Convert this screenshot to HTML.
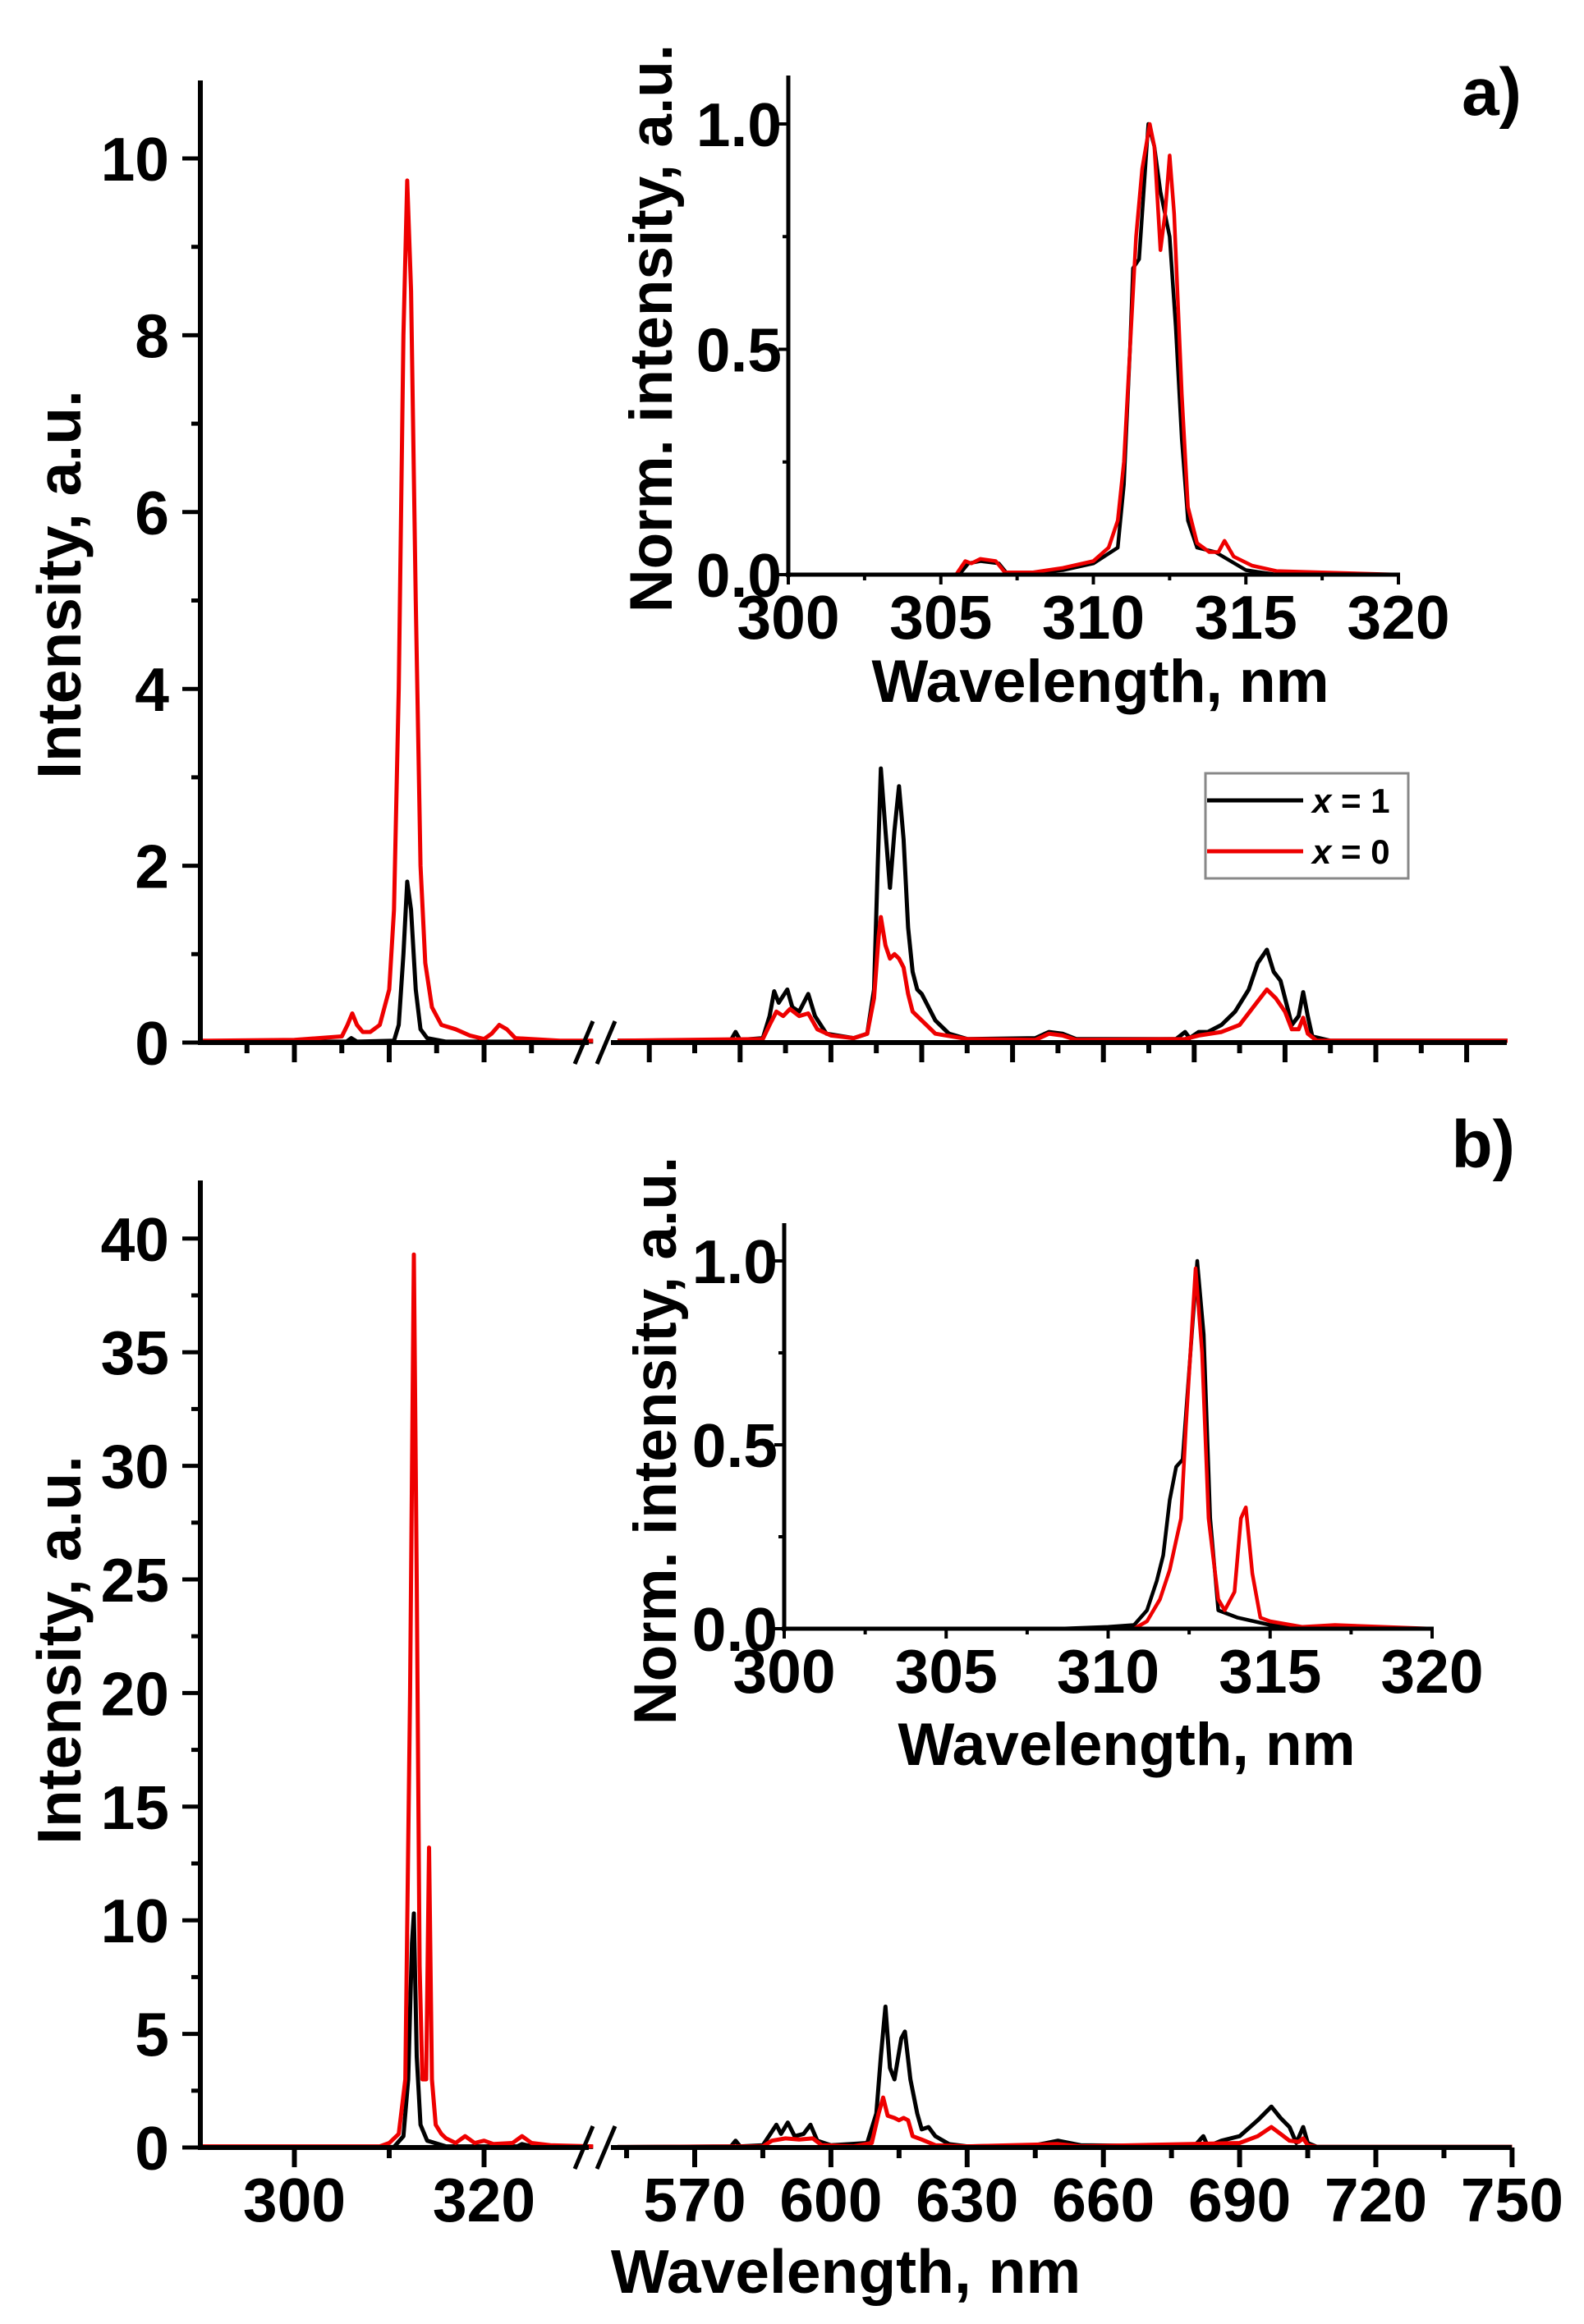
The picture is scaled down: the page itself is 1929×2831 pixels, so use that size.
<!DOCTYPE html>
<html><head><meta charset="utf-8">
<style>
html,body{margin:0;padding:0;background:#fff;}
svg{display:block;}
text{font-family:"Liberation Sans",Arial,sans-serif;font-weight:bold;fill:#000;}
</style></head>
<body>
<svg id="s" width="1929" height="2831" viewBox="0 0 1929 2831" xmlns="http://www.w3.org/2000/svg">
<rect width="1929" height="2831" fill="#fff"/>
<g id="g"></g>
<!-- static text -->
<text x="1853" y="140" font-size="82" text-anchor="end">a)</text>
<text x="1845" y="1422" font-size="82" text-anchor="end">b)</text>
<text transform="translate(98,712) rotate(-90)" font-size="75" text-anchor="middle">Intensity, a.u.</text>
<text transform="translate(98,2010) rotate(-90)" font-size="75" text-anchor="middle">Intensity, a.u.</text>
<text x="1030" y="2793" font-size="75" text-anchor="middle">Wavelength, nm</text>
<text transform="translate(818,400) rotate(-90)" font-size="73" text-anchor="middle">Norm. intensity, a.u.</text>
<text x="1340" y="855" font-size="73" text-anchor="middle">Wavelength, nm</text>
<text transform="translate(823,1755) rotate(-90)" font-size="73" text-anchor="middle">Norm. intensity, a.u.</text>
<text x="1372" y="2150" font-size="73" text-anchor="middle">Wavelength, nm</text>
<!-- legend -->
<rect x="1468" y="942" width="247" height="128" fill="#fff" stroke="#888" stroke-width="3"/>
<line x1="1470" y1="975" x2="1587" y2="975" stroke="#000" stroke-width="5"/>
<line x1="1470" y1="1037" x2="1587" y2="1037" stroke="#e00" stroke-width="5"/>
<text x="1598" y="990" font-size="42"><tspan font-style="italic">x</tspan> = 1</text>
<text x="1598" y="1052" font-size="42"><tspan font-style="italic">x</tspan> = 0</text>
</svg>
<script>
var NS="http://www.w3.org/2000/svg",G=document.getElementById("g");
function el(t,a,txt){var e=document.createElementNS(NS,t);for(var k in a)e.setAttribute(k,a[k]);if(txt!==undefined)e.textContent=txt;G.appendChild(e);return e;}
function line(x1,y1,x2,y2,w,c){el("line",{x1:x1,y1:y1,x2:x2,y2:y2,stroke:c||"#000","stroke-width":w});}
function txt(x,y,s,fs,anc){el("text",{x:x,y:y,"font-size":fs,"text-anchor":anc||"middle"},s);}
// main x mapping
function mx(nm){return nm<400?243+(nm-290)*11.55:846+(nm-570)*5.53;}
function drawMain(z,ppu,top,xend,black,red,ymaj,ymin,ymax,xlabels,leftTicks,rightTicks){
  // series
  [[red,"#e00"],[black,"#000"]].forEach(function(p){});
  function path(pts,c){var segs=[[],[]];pts.forEach(function(q){segs[q[0]<400?0:1].push(q);});
    segs.forEach(function(sg){if(!sg.length)return;var d="";sg.forEach(function(q,i){d+=(i?"L":"M")+mx(q[0]).toFixed(1)+","+(z-q[1]*ppu).toFixed(1);});
      el("path",{d:d,fill:"none",stroke:c,"stroke-width":5,"stroke-linejoin":"round"});});}
  path(black,"#000");path(red,"#e00");
  // axes
  line(244,top,244,z+3,6);
  line(241,z,717,z,6);line(744,z,xend,z,6);
  // break marks
  line(700,z+26,722,z-26,5);line(727,z+26,749,z-26,5);
  // y ticks
  for(var v=0;v<=ymax+1e-9;v+=ymin){var y=z-v*ppu;var maj=Math.abs(v/ymaj-Math.round(v/ymaj))<1e-6;
    line(maj?222:233,y,244,y,5);
    if(maj)txt(206,y+27,String(v),75,"end");}
  // x ticks
  leftTicks.forEach(function(t){line(mx(t[0]),z,mx(t[0]),z+(t[1]?24:13),6);});
  rightTicks.forEach(function(t){line(mx(t[0]),z,mx(t[0]),z+(t[1]?24:13),6);});
  xlabels.forEach(function(v){txt(mx(v),z+90,String(v),75);});
}
function drawInset(x0,x1,z,top,one,black,red){
  var sx=(x1-x0)/20,sy=(z-one);
  function path(pts,c){var d="";pts.forEach(function(q,i){d+=(i?"L":"M")+(x0+(q[0]-300)*sx).toFixed(1)+","+(z-q[1]*sy).toFixed(1);});
    el("path",{d:d,fill:"none",stroke:c,"stroke-width":4.5,"stroke-linejoin":"round"});}
  path(black,"#000");path(red,"#e00");
  line(x0,top,x0,z+3,5);line(x0-3,z,x1+2,z,5);
  for(var n=300;n<=320;n+=2.5){var X=x0+(n-300)*sx;var maj=(n%5===0);line(X,z,X,z+(maj?12:7),4);
    if(maj)txt(X,z+78,String(n),75);}
  for(var v=0;v<=1.001;v+=0.25){var Y=z-v*sy;var maj=Math.abs(v*2-Math.round(v*2))<1e-6;line(x0-(maj?12:7),Y,x0,Y,4);
    if(maj)txt(x0-8,Y+27,v.toFixed(1),75,"end");}
}
// ---- Panel a data
var aBL=[[290,0.01],[305.5,0.01],[306,0.05],[306.6,0.01],[310.5,0.02],[311,0.2],[311.5,1.0],[311.9,1.82],[312.3,1.5],[312.8,0.6],[313.3,0.15],[314,0.05],[316,0.01],[331.5,0.01],
[553,0.02],[578,0.03],[579,0.12],[580,0.03],[585,0.05],[586.5,0.3],[587.5,0.58],[588.5,0.45],[590.4,0.6],[591.5,0.4],[593,0.35],[595,0.55],[596.5,0.3],[599,0.1],[605,0.05],[608,0.1],[609.5,0.6],[610.3,2],[611,3.1],[612,2.4],[613,1.75],[614,2.4],[615,2.9],[616,2.3],[617,1.3],[618,0.8],[619,0.6],[620,0.55],[621,0.45],[623,0.25],[626,0.1],[630,0.04],[645,0.05],[648,0.12],[651,0.1],[654,0.04],[676,0.04],[678,0.12],[679,0.05],[681,0.12],[683,0.12],[686,0.2],[689,0.35],[692,0.6],[694,0.9],[696,1.05],[697.5,0.8],[699,0.7],[700.5,0.4],[701.5,0.2],[703,0.3],[704,0.57],[705,0.3],[706,0.07],[710,0.02],[749,0.02]];
var aRD=[[290,0.02],[300,0.03],[305,0.07],[305.6,0.2],[306.1,0.33],[306.6,0.2],[307.2,0.12],[308,0.12],[309,0.2],[310,0.6],[310.5,1.5],[311,4],[311.5,8],[311.9,9.75],[312.3,8.5],[312.8,5],[313.3,2],[313.8,0.9],[314.5,0.4],[315.5,0.2],[317,0.15],[318.5,0.08],[320,0.04],[320.8,0.1],[321.6,0.2],[322.4,0.15],[323.3,0.05],[328,0.02],[331.5,0.02],
[553,0.02],[585,0.04],[586.5,0.2],[588,0.35],[589.5,0.3],[591,0.38],[593,0.3],[595,0.33],[597,0.15],[600,0.08],[605,0.05],[608,0.1],[609.5,0.5],[610.5,1.2],[611,1.42],[612,1.1],[613,0.95],[614,1.0],[615,0.95],[616,0.85],[617,0.55],[618,0.35],[620,0.25],[623,0.1],[630,0.04],[645,0.03],[648,0.1],[651,0.08],[654,0.03],[678,0.04],[681,0.08],[686,0.12],[690,0.2],[693,0.4],[696,0.6],[698,0.5],[700,0.35],[701.5,0.15],[703,0.15],[704,0.28],[705,0.1],[707,0.02],[749,0.02]];
var aLT=[[295,0],[300,1],[305,0],[310,1],[315,0],[320,1],[325,0]];
var aRT=[];for(var n=560;n<=740;n+=10)aRT.push([n,(n%20===0)]);
drawMain(1270,107.7,98,1835,aBL,aRD,2,1,10,[],aLT,aRT);
// ---- Panel b data
var bBL=[[290,0.02],[310.5,0.02],[311.5,0.5],[312,3],[312.4,9],[312.6,10.3],[312.9,4],[313.3,1],[314,0.3],[316,0.05],[323.5,0.05],[324,0.15],[325,0.05],[331.5,0.02],
[553,0.02],[578,0.05],[579,0.3],[580,0.05],[585,0.1],[587,0.7],[588,1.0],[589,0.6],[590.5,1.1],[592,0.5],[594,0.6],[595.5,1.0],[597,0.3],[600,0.1],[608,0.2],[610,1.5],[611,4],[612,6.2],[613,3.5],[614,3],[615.5,4.8],[616.3,5.1],[617.5,3],[619,1.5],[620,0.8],[621.5,0.9],[623,0.5],[626,0.15],[630,0.05],[645,0.1],[650,0.3],[655,0.1],[680,0.05],[682,0.5],[683,0.05],[686,0.3],[690,0.5],[694,1.2],[697,1.8],[699,1.3],[701,0.9],[702.5,0.2],[704,0.9],[705,0.2],[707,0.03],[750,0.03]];
var bRD=[[290,0.05],[309,0.05],[310,0.2],[311,0.6],[311.7,3],[312.2,20],[312.6,39.3],[312.9,25],[313.2,8],[313.5,3],[313.9,3],[314.2,13.2],[314.5,3],[314.9,1],[315.5,0.6],[316,0.4],[317,0.2],[318,0.5],[319,0.2],[320,0.3],[321,0.15],[323,0.2],[324,0.5],[325,0.2],[327,0.1],[331.5,0.05],
[553,0.02],[585,0.05],[587,0.3],[590,0.4],[593,0.35],[596,0.4],[598,0.1],[605,0.05],[609,0.2],[610.5,1.5],[611.5,2.2],[612.5,1.4],[614,1.3],[615,1.2],[616,1.3],[617,1.2],[618,0.5],[620,0.35],[623,0.1],[630,0.05],[650,0.15],[655,0.05],[690,0.2],[694,0.5],[697,0.9],[699,0.6],[701,0.3],[703,0.25],[704,0.4],[705,0.1],[707,0.03],[750,0.03]];
var bLT=[[300,1],[310,0],[320,1]];
var bRT=[];for(var n=555;n<=750;n+=15)bRT.push([n,(n%30===0)]);
drawMain(2616,27.68,1438,1841,bBL,bRD,5,2.5,40,[300,320,570,600,630,660,690,720,750],bLT,bRT);
// ---- Insets
var iaR=[[300,0],[305.5,0],[305.8,0.03],[306,0.025],[306.3,0.035],[306.8,0.03],[307.1,0.005],[308,0.005],[309,0.015],[310,0.03],[310.5,0.06],[310.8,0.12],[311,0.25],[311.2,0.5],[311.4,0.75],[311.6,0.9],[311.85,1.0],[312.0,0.95],[312.2,0.72],[312.35,0.8],[312.5,0.93],[312.65,0.8],[312.9,0.4],[313.1,0.15],[313.4,0.07],[313.8,0.05],[314.1,0.05],[314.3,0.075],[314.6,0.04],[315.2,0.02],[316,0.008],[320,0]];
var iaB=[[300,0],[305.6,0],[305.9,0.025],[306.3,0.03],[306.9,0.025],[307.2,0],[309,0.01],[310,0.025],[310.8,0.06],[311.0,0.2],[311.2,0.5],[311.3,0.68],[311.5,0.7],[311.8,1.0],[312.0,0.95],[312.2,0.85],[312.5,0.75],[312.7,0.55],[312.9,0.3],[313.1,0.12],[313.4,0.06],[314,0.05],[314.5,0.03],[315,0.01],[316,0],[320,0]];
drawInset(960,1703,700,92,151,iaB,iaR);
var ibB=[[300,0],[308.5,0],[310,0.005],[310.8,0.01],[311.2,0.05],[311.5,0.13],[311.7,0.2],[311.9,0.35],[312.1,0.44],[312.3,0.46],[312.5,0.7],[312.75,1.0],[312.95,0.8],[313.15,0.3],[313.4,0.05],[314,0.03],[315,0.01],[316,0],[320,0]];
var ibR=[[300,0],[310.8,0],[311.2,0.02],[311.6,0.08],[311.9,0.16],[312.1,0.24],[312.25,0.3],[312.4,0.55],[312.7,0.98],[312.9,0.75],[313.1,0.3],[313.4,0.08],[313.6,0.05],[313.9,0.1],[314.1,0.3],[314.25,0.33],[314.45,0.15],[314.7,0.03],[315,0.02],[316,0.005],[317,0.01],[320,0]];
drawInset(955,1744,1984,1490,1536,ibB,ibR);
</script>
</body></html>
